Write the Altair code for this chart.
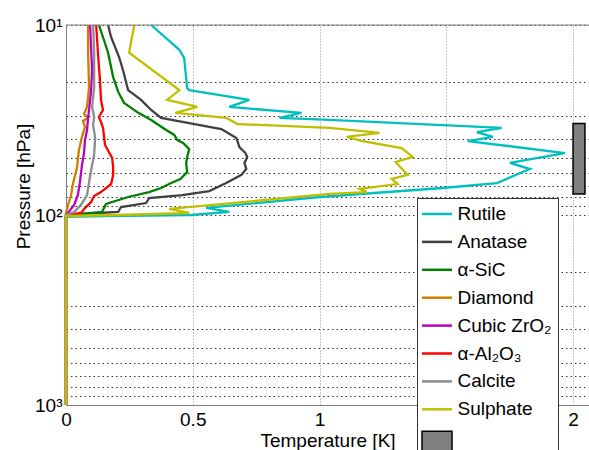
import altair as alt
import pandas as pd

FONT = "Liberation Sans"
FS = 19

SERIES = ["Rutile", "Anatase", "α-SiC", "Diamond", "Cubic ZrO₂", "α-Al₂O₃", "Calcite", "Sulphate"]
COLORS = ["#00bfbf", "#404040", "#008000", "#cc8000", "#bf00bf", "#ff0000", "#8c8c8c", "#bfbf00"]
BOX_KEY = "box"
BOX_FILL = "#808080"

X_DOMAIN = [0, 2.063]
Y_DOMAIN = [10, 1000]
X_TICKS = [0, 0.5, 1, 1.5, 2]
Y_TICKS = [10, 20, 30, 40, 50, 60, 70, 80, 90, 100, 200, 300, 400, 500, 600, 700, 800, 900, 1000]

rutile_p = [10, 13.5, 14.9, 21.5, 22.0, 24.8, 27.0, 29.0, 30.8, 31.6, 34.8, 36.6, 38.8, 40.8, 47.2,
            53.2, 57.3, 67.9, 72.1, 80.4, 91.8, 96.4, 100, 101.2, 102.4, 1000]
rutile_t = [0.336, 0.447, 0.466, 0.478, 0.486, 0.723, 0.644, 0.929, 0.842, 1.040, 1.719, 1.621, 1.684, 1.585, 1.968,
            1.751, 1.830, 1.700, 1.486, 1.000, 0.553, 0.644, 0.494, 0.158, 0.0, 0.0]

anatase_p = [10, 11.6, 14.7, 17.3, 22.0, 24.8, 28.0, 30.8, 32.8, 34.4, 35.3, 39.3, 43.9, 47.2, 49.5,
             53.2, 57.3, 61.5, 67.9, 74.8, 78.5, 81.4, 86.5, 90.8, 96.4, 98.8, 100, 1000]
anatase_t = [0.166, 0.178, 0.209, 0.225, 0.245, 0.296, 0.336, 0.375, 0.486, 0.565, 0.613, 0.672, 0.684, 0.708, 0.715,
             0.704, 0.711, 0.692, 0.632, 0.565, 0.458, 0.328, 0.316, 0.217, 0.206, 0.051, 0.0, 0.0]

sic_p = [10, 11.6, 14.0, 18.8, 22.5, 25.7, 29.0, 31.6, 35.7, 37.9, 40.3, 41.8, 45.0, 49.5, 53.2,
         59.4, 64.6, 67.9, 72.1, 75.7, 80.4, 87.5, 96.4, 100, 101.2, 1000]
sic_t = [0.130, 0.146, 0.166, 0.186, 0.206, 0.229, 0.285, 0.336, 0.395, 0.427, 0.439, 0.462, 0.486, 0.478, 0.474,
         0.478, 0.451, 0.415, 0.375, 0.328, 0.245, 0.158, 0.142, 0.024, 0.0, 0.0]

diamond_p = [10, 14.0, 21.2, 27.0, 29.4, 30.8, 32.0, 34.4, 38.8, 45.5, 56.6, 67.9, 78.5, 88.5, 97.6, 100, 1000]
diamond_t = [0.087, 0.087, 0.091, 0.083, 0.071, 0.087, 0.067, 0.075, 0.063, 0.051, 0.043, 0.028, 0.020, 0.008, 0.0, 0.0, 0.0]

zro2_p = [10, 17.3, 22.0, 28.0, 30.8, 35.7, 40.3, 47.2, 54.6, 67.0, 78.5, 88.5, 97.6, 100, 1000]
zro2_t = [0.095, 0.103, 0.099, 0.091, 0.087, 0.083, 0.075, 0.071, 0.063, 0.055, 0.047, 0.032, 0.008, 0.0, 0.0]

al2o3_p = [10, 14.0, 19.5, 24.8, 28.0, 30.5, 32.4, 34.8, 42.8, 50.1, 55.8, 61.5, 68.7, 75.7, 79.4,
           85.5, 91.8, 97.6, 100, 101.2, 1000]
al2o3_t = [0.119, 0.126, 0.134, 0.138, 0.146, 0.130, 0.138, 0.146, 0.154, 0.182, 0.186, 0.186, 0.178, 0.138, 0.111,
           0.099, 0.075, 0.059, 0.008, 0.0, 0.0]

calcite_p = [10, 14.0, 21.2, 27.0, 30.5, 33.6, 39.3, 48.3, 54.6, 67.0, 78.5, 88.5, 96.4, 100, 1000]
calcite_t = [0.107, 0.111, 0.111, 0.103, 0.111, 0.107, 0.115, 0.111, 0.103, 0.091, 0.083, 0.059, 0.032, 0.0, 0.0]

sulphate_p = [10, 14.0, 22.0, 24.8, 27.0, 29.0, 30.8, 33.2, 34.8, 37.0, 38.8, 40.8, 44.4, 49.5, 52.6,
              61.5, 64.6, 68.7, 72.9, 75.7, 77.5, 92.9, 97.6, 100, 101.2, 1000]
sulphate_t = [0.269, 0.249, 0.447, 0.399, 0.518, 0.431, 0.632, 0.676, 1.040, 1.237, 1.107, 1.170, 1.324, 1.368, 1.300,
              1.348, 1.285, 1.308, 1.158, 1.186, 1.040, 0.407, 0.486, 0.209, 0.0, 0.0]

# Measurement-interval bar
bar_t1 = [2.0]
bar_t2 = [2.047]
bar_p1 = [33.0]
bar_p2 = [77.5]

series_data = [
    ("Rutile", rutile_p, rutile_t),
    ("Anatase", anatase_p, anatase_t),
    ("α-SiC", sic_p, sic_t),
    ("Diamond", diamond_p, diamond_t),
    ("Cubic ZrO₂", zro2_p, zro2_t),
    ("α-Al₂O₃", al2o3_p, al2o3_t),
    ("Calcite", calcite_p, calcite_t),
    ("Sulphate", sulphate_p, sulphate_t),
]

rows = []
for name, ps, ts in series_data:
    for i, (p, t) in enumerate(zip(ps, ts)):
        rows.append({"series": name, "p": p, "t": t, "idx": i})
df = pd.DataFrame(rows)

bar_df = pd.DataFrame({"t1": bar_t1, "t2": bar_t2, "p1": bar_p1, "p2": bar_p2})
top_df = pd.DataFrame({"p": [Y_DOMAIN[0]], "t": [X_DOMAIN[0]]})

x_scale = alt.Scale(domain=X_DOMAIN, nice=False, zero=False)
y_scale = alt.Scale(type="log", domain=Y_DOMAIN, reverse=True, nice=False)

y_label_expr = ("datum.value == 10 ? '10¹' : datum.value == 100 ? '10²' : "
                "datum.value == 1000 ? '10³' : ''")

x_axis = alt.Axis(values=X_TICKS, format="~g", title="Temperature [K]", grid=True,
                  gridDash=[1, 2], gridColor="#8a8a8a", ticks=False, domainColor="#808080",
                  labelFontSize=FS, labelPadding=5, labelFlush=False, labelColor="black",
                  titleFontSize=FS, titlePadding=2, titleFontWeight="normal", titleColor="black")
y_axis = alt.Axis(values=Y_TICKS, labelExpr=y_label_expr, grid=True, gridDash=[1.5, 3],
                  gridColor="#333333", ticks=False, domainColor="#808080",
                  labelFontSize=FS, labelPadding=4, labelOverlap=False, labelFlush=False,
                  labelColor="black", title="Pressure [hPa]", titleFontSize=FS,
                  titleFontWeight="normal", titleColor="black", titleAngle=270,
                  titleAlign="center", titleBaseline="middle", titleX=-43, titleY=161)

is_box = f"datum.value == '{BOX_KEY}'"
legend = alt.Legend(
    orient="none", legendX=351, legendY=173, title=None,
    padding=6.5, fillColor="white", strokeColor="#333333",
    symbolType=alt.ExprRef(f"{is_box} ? 'M-2.2,-2.2H3.8V2.2H-2.2Z' : 'M-2.2,0H3.8'"),
    symbolFillColor=alt.ExprRef(f"{is_box} ? '{BOX_FILL}' : 'transparent'"),
    symbolStrokeWidth=alt.ExprRef(f"{is_box} ? 1.5 : 2.5"),
    symbolSize=100,
    labelFontSize=FS, labelOffset=15, rowPadding=7.9,
    labelExpr=f"{is_box} ? '' : datum.label",
    labelColor="black", labelLimit=250, zindex=1,
)

lines = alt.Chart(df).mark_line(strokeWidth=2.3).encode(
    x=alt.X("t:Q", scale=x_scale, axis=x_axis),
    y=alt.Y("p:Q", scale=y_scale, axis=y_axis),
    color=alt.Color("series:N",
                    scale=alt.Scale(domain=SERIES + [BOX_KEY], range=COLORS + ["black"]),
                    legend=legend),
    order=alt.Order("idx:Q"),
)

bar = alt.Chart(bar_df).mark_rect(stroke="black", strokeWidth=1.5, fill=BOX_FILL).encode(
    x=alt.X("t1:Q", scale=x_scale, axis=x_axis),
    x2="t2:Q",
    y=alt.Y("p1:Q", scale=y_scale, axis=y_axis),
    y2="p2:Q",
)

top = alt.Chart(top_df).mark_rule(color="#808080", strokeWidth=1).encode(
    y=alt.Y("p:Q", scale=y_scale, axis=y_axis),
)

chart = alt.layer(lines, bar, top).properties(
    width=523, height=380,
    autosize=alt.AutoSizeParams(type="none"),
    padding={"left": 66, "top": 25, "right": 0, "bottom": 45},
).configure(font=FONT).configure_view(stroke=None)

chart.save("out.html", embed_options={"renderer": "svg", "actions": False})
